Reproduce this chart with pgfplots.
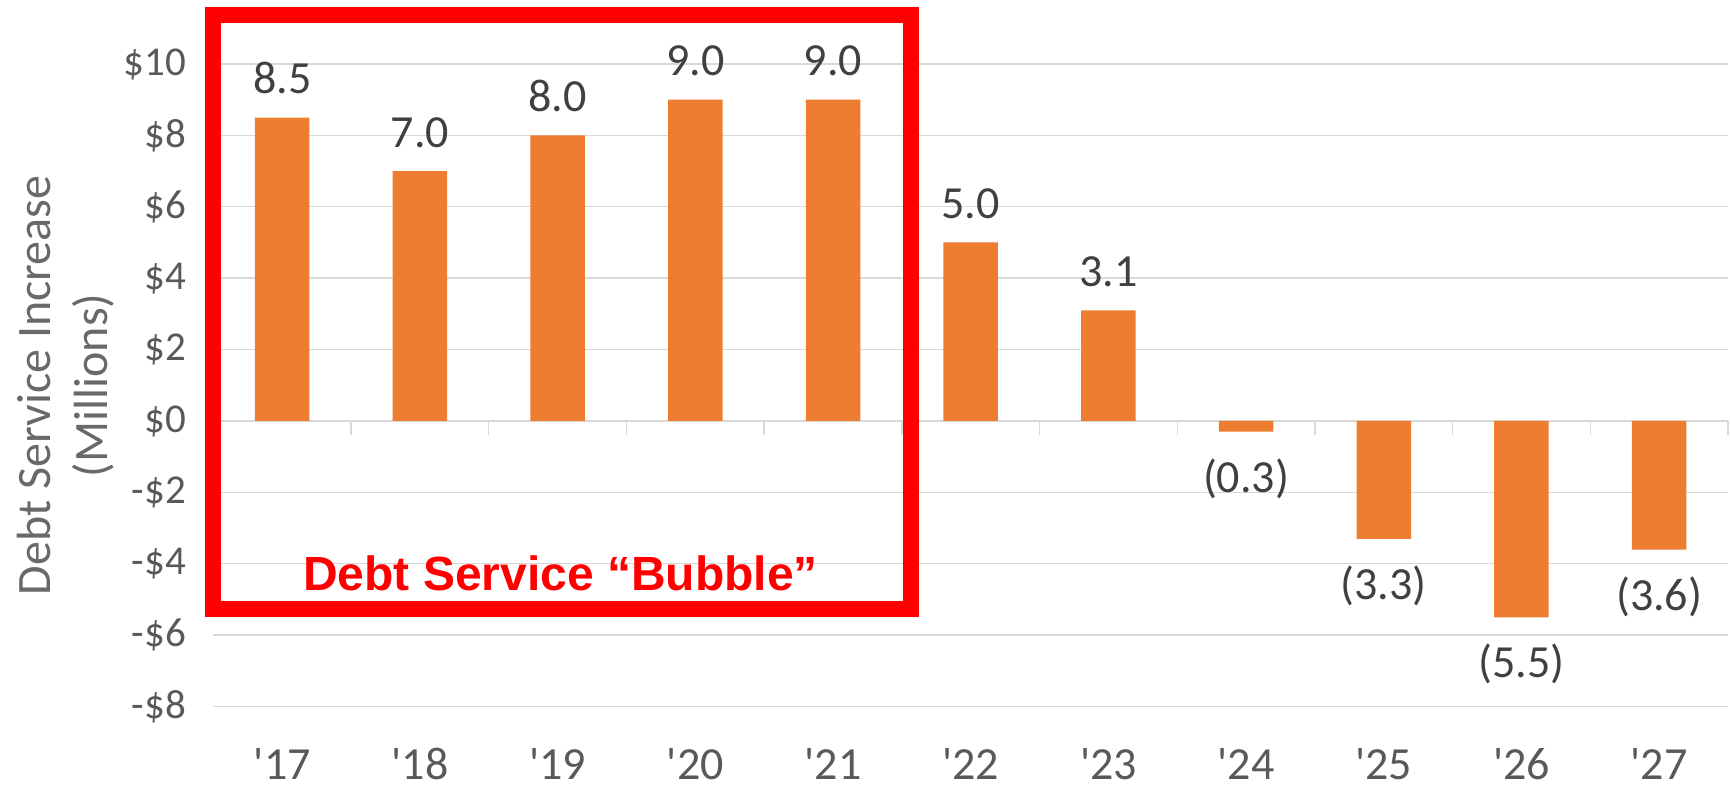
\documentclass[border=0pt]{standalone}
\usepackage{fontspec}
\setmainfont{Carlito}
\newfontfamily\arialfont{Liberation Sans}
\usepackage{pgfplots}
\pgfplotsset{compat=1.18}
\usepackage{pgfplotstable}
\definecolor{barorange}{RGB}{237,125,49}
\definecolor{tickgray}{RGB}{89,89,89}
\definecolor{titlegray}{RGB}{105,105,105}
\definecolor{gridgray}{RGB}{217,217,217}
\definecolor{labelgray}{RGB}{64,64,64}
\definecolor{boxred}{RGB}{255,0,0}

\pgfplotstableread{
x y lab
0 8.5 8.5
1 7.0 7.0
2 8.0 8.0
3 9.0 9.0
4 9.0 9.0
5 5.0 5.0
6 3.1 3.1
7 -0.3 (0.3)
8 -3.3 (3.3)
9 -5.5 (5.5)
10 -3.6 (3.6)
}\datatable

\begin{document}
\begin{tikzpicture}
\begin{axis}[
  name=ax,
  scale only axis,
  width=757.3pt, height=321.3pt,
  xmin=-0.5, xmax=10.5, ymin=-8, ymax=10,
  clip=false,
  axis line style={draw=none},
  major tick length=0pt,
  ytick={-8,-6,-4,-2,0,2,4,6,8,10},
  yticklabels={-\$8,-\$6,-\$4,-\$2,\$0,\$2,\$4,\$6,\$8,\$10},
  xtick={0,1,2,3,4,5,6,7,8,9,10},
  xticklabels={\textquotesingle17,\textquotesingle18,\textquotesingle19,\textquotesingle20,\textquotesingle21,\textquotesingle22,\textquotesingle23,\textquotesingle24,\textquotesingle25,\textquotesingle26,\textquotesingle27},
  /pgf/number format/assume math mode=true,
  yticklabel style={font=\fontsize{20.5}{24}\selectfont, text=tickgray, anchor=east, inner sep=0pt, xshift=-13.5pt},
  xticklabel style={font=\fontsize{23}{27}\selectfont, text=tickgray, anchor=base, inner sep=0pt, yshift=-36.5pt},
  ymajorgrids,
  grid style={gridgray, line width=0.7pt},
  ylabel={Debt Service Increase\\(Millions)},
  ylabel style={at={(axis description cs:0,0.5)}, anchor=north, rotate=0, xshift=0pt, yshift=98.5pt, inner sep=0pt, align=center, font=\fontsize{24}{28.5}\selectfont, text=titlegray},
  ybar, bar width=27.25pt,
]
\addplot[fill=barorange, draw=none,
  nodes near coords,
  point meta=explicit symbolic,
  visualization depends on={rawy \as \yval},
  every node near coord/.append style={font=\fontsize{23}{27}\selectfont, text=labelgray, anchor=base, inner sep=0pt,
    yshift={ifthenelse(\yval<0,-30.3,12)}},
] table[x=x, y=y, meta=lab] {\datatable};
\pgfplotsinvokeforeach{0.5,1.5,2.5,3.5,4.5,5.5,6.5,7.5,8.5,9.5,10.5}{
  \draw[gridgray, line width=0.7pt] (axis cs:#1,0) -- ([yshift=-7pt]axis cs:#1,0);
}
\draw[boxred, line width=8pt] (axis cs:-0.503,11.38) rectangle (axis cs:4.57,-5.27);
\node[boxred, font=\arialfont\bfseries\fontsize{24}{28}\selectfont, inner sep=0pt, anchor=center] at (axis cs:2.021,-4.26) {Debt Service “Bubble”};
\end{axis}
\pgfresetboundingbox
\path[use as bounding box] ([xshift=-106.7pt,yshift=-41.2pt]ax.south west) rectangle ([xshift=1pt,yshift=32pt]ax.north east);
\end{tikzpicture}
\end{document}
